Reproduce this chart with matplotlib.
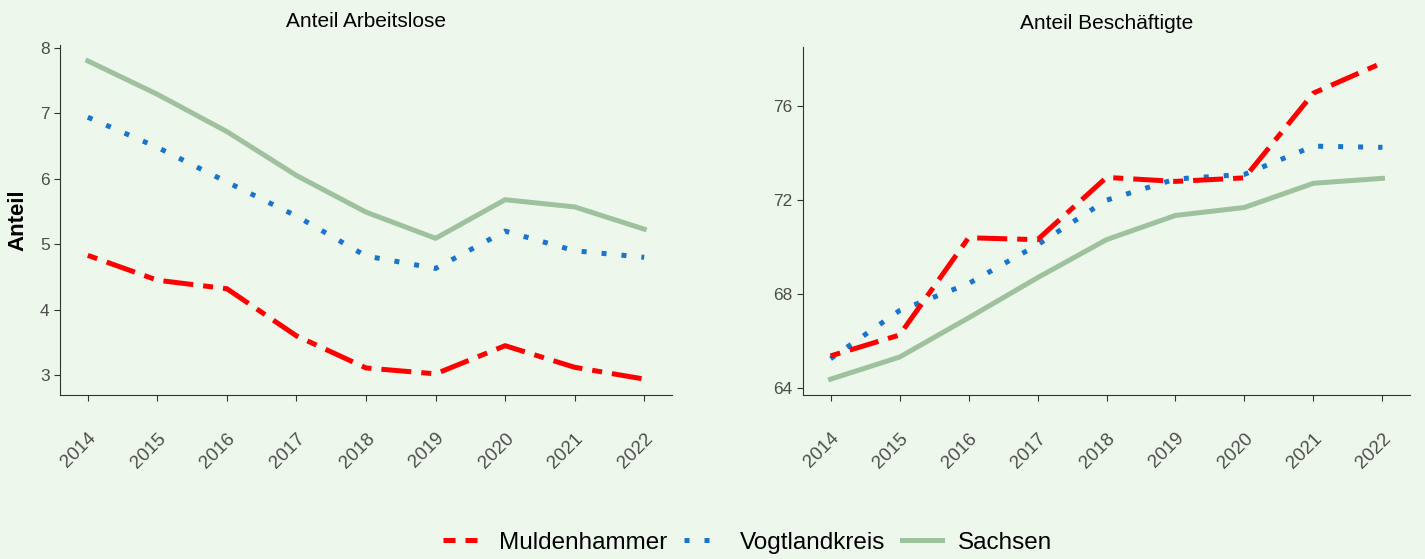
import numpy as np
import matplotlib.pyplot as plt
import matplotlib.transforms as mtransforms
from matplotlib.lines import Line2D

plt.rcParams['font.family'] = ['Liberation Sans', 'DejaVu Sans']

jahre = [2014, 2015, 2016, 2017, 2018, 2019, 2020, 2021, 2022]

# Anteil Arbeitslose
alo_mulden = [4.83, 4.45, 4.32, 3.60, 3.11, 3.02, 3.45, 3.12, 2.94]
alo_vogt = [6.94, 6.48, 5.95, 5.43, 4.82, 4.63, 5.20, 4.90, 4.80]
alo_sachsen = [7.80, 7.29, 6.72, 6.05, 5.49, 5.09, 5.68, 5.57, 5.23]

# Anteil Beschaeftigte
bes_mulden = [65.37, 66.26, 70.40, 70.32, 72.97, 72.80, 72.95, 76.56, 77.85]
bes_vogt = [65.25, 67.30, 68.45, 70.10, 72.00, 72.90, 73.10, 74.30, 74.25]
bes_sachsen = [64.38, 65.32, 66.99, 68.70, 70.32, 71.35, 71.69, 72.72, 72.93]

namen = ["Muldenhammer", "Vogtlandkreis", "Sachsen"]
farben = ["#FF0000", "#1874CD", "#9DC29D"]

bg = "#EEF7EC"
lw = 3.6
fig = plt.figure(figsize=(14.25, 5.59), dpi=100, facecolor=bg)
ax1 = fig.add_axes([0.0421, 0.2934, 0.4295, 0.6261])
ax2 = fig.add_axes([0.5635, 0.2934, 0.4260, 0.6226])

def zeichne(ax, reihen, titel, yticks):
    for werte, farbe, name in zip(reihen, farben, namen):
        if name == "Muldenhammer":
            ax.plot(jahre, werte, color=farbe, lw=lw, dashes=(2, 2, 6, 2),
                    dash_capstyle="butt", zorder=3)
        elif name == "Vogtlandkreis":
            ax.plot(jahre, werte, color=farbe, lw=lw, dashes=(1, 3),
                    dash_capstyle="butt", zorder=2)
        else:
            ax.plot(jahre, werte, color=farbe, lw=lw, zorder=1)
    ax.set_facecolor(bg)
    for s in ["top", "right"]:
        ax.spines[s].set_visible(False)
    for s in ["left", "bottom"]:
        ax.spines[s].set_color("#333333")
        ax.spines[s].set_linewidth(0.8)
    ax.set_xlim(2013.6, 2022.4)
    alle = np.concatenate(reihen)
    spanne = alle.max() - alle.min()
    ax.set_ylim(alle.min() - 0.05 * spanne, alle.max() + 0.05 * spanne)
    ax.set_xticks(jahre)
    ax.set_xticklabels([str(j) for j in jahre], rotation=45, ha="right",
                       va="top", rotation_mode="anchor")
    verschiebung = mtransforms.ScaledTranslation(5 / 100, 0, fig.dpi_scale_trans)
    for lab in ax.get_xticklabels():
        lab.set_transform(lab.get_transform() + verschiebung)
    ax.set_yticks(yticks)
    ax.tick_params(axis="both", colors="#333333", labelcolor="#4D4D4D",
                   labelsize=12.5, length=4, width=0.8, direction="out")
    ax.tick_params(axis="x", pad=21, labelsize=13.5)
    ax.set_title(titel, fontsize=15, color="black", pad=13)

zeichne(ax1, [alo_mulden, alo_vogt, alo_sachsen], "Anteil Arbeitslose", [3, 4, 5, 6, 7, 8])
zeichne(ax2, [bes_mulden, bes_vogt, bes_sachsen], "Anteil Beschäftigte", [64, 68, 72, 76])
ax1.set_ylabel("Anteil", fontsize=16, fontweight="bold", labelpad=8)

handles = [
    Line2D([], [], color=farben[0], lw=lw, dashes=(2.4, 2), dash_capstyle="butt"),
    Line2D([], [], color=farben[1], lw=lw, dashes=(1, 3), dash_capstyle="butt"),
    Line2D([], [], color=farben[2], lw=lw),
]
fig.legend(handles, namen, loc="lower center", bbox_to_anchor=(0.5246, -0.03),
           ncol=3, frameon=False, fontsize=17.5, handlelength=1.65,
           columnspacing=0.7, handletextpad=0.65)

fig.savefig("out.png", dpi=100, facecolor=bg)
